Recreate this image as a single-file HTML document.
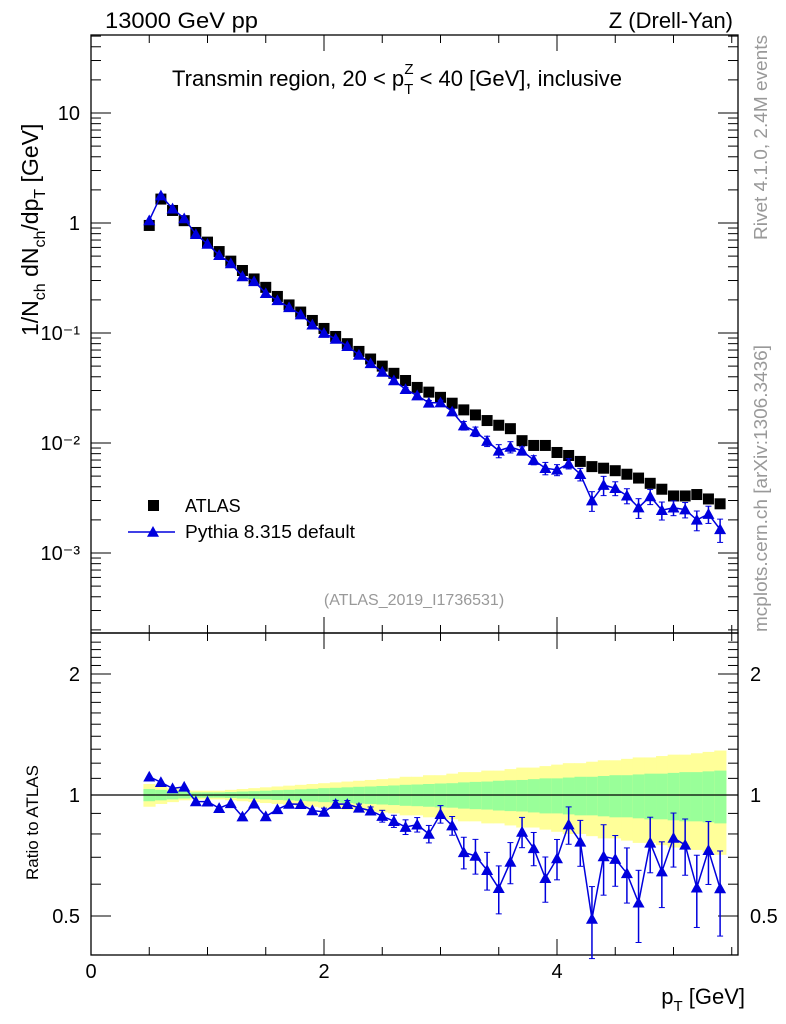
<!DOCTYPE html>
<html><head><meta charset="utf-8"><style>
body{margin:0;background:#fff;}
svg{display:block;font-family:"Liberation Sans",Arial,sans-serif;}
</style></head><body>
<svg id="chart" width="786" height="1024" viewBox="0 0 786 1024" xmlns="http://www.w3.org/2000/svg">
<text x="105" y="28" font-size="22" textLength="153" lengthAdjust="spacingAndGlyphs">13000 GeV pp</text>
<text x="733" y="28" font-size="22" text-anchor="end">Z (Drell-Yan)</text>
<text x="172" y="86" font-size="22">Transmin region, 20 &lt; p<tspan font-size="15" dy="8">T</tspan><tspan font-size="15" dx="-9" dy="-20">Z</tspan><tspan dy="12"> &lt; 40 [GeV], inclusive</tspan></text>
<text transform="translate(767,240) rotate(-90)" font-size="18" fill="#999" textLength="205" lengthAdjust="spacingAndGlyphs">Rivet 4.1.0,  2.4M events</text>
<text transform="translate(767,632) rotate(-90)" font-size="18" fill="#999" textLength="287" lengthAdjust="spacingAndGlyphs">mcplots.cern.ch [arXiv:1306.3436]</text>
<text x="414" y="605" font-size="16" fill="#999" text-anchor="middle">(ATLAS_2019_I1736531)</text>
<text transform="translate(38,336) rotate(-90)" font-size="23">1/N<tspan font-size="16" dy="7">ch</tspan><tspan dy="-7"> dN</tspan><tspan font-size="16" dy="7">ch</tspan><tspan dy="-7">/dp</tspan><tspan font-size="16" dy="7">T</tspan><tspan dy="-7"> [GeV]</tspan></text>
<text transform="translate(38,880) rotate(-90)" font-size="17">Ratio to ATLAS</text>
<text x="745" y="1004" font-size="22" text-anchor="end">p<tspan font-size="15" dy="7">T</tspan><tspan dy="-7"> [GeV]</tspan></text>
<g id="g"></g>
</svg>
<script>
const pt=[0.5,0.6,0.7,0.8,0.9,1.0,1.1,1.2,1.3,1.4,1.5,1.6,1.7,1.8,1.9,2.0,2.1,2.2,2.3,2.4,2.5,2.6,2.7,2.8,2.9,3.0,3.1,3.2,3.3,3.4,3.5,3.6,3.7,3.8,3.9,4.0,4.1,4.2,4.3,4.4,4.5,4.6,4.7,4.8,4.9,5.0,5.1,5.2,5.3,5.4];
const atlas=[0.95,1.65,1.3,1.05,0.82,0.67,0.55,0.45,0.37,0.31,0.26,0.215,0.18,0.155,0.13,0.11,0.093,0.08,0.068,0.058,0.05,0.043,0.037,0.032,0.029,0.026,0.023,0.02,0.018,0.016,0.0145,0.0135,0.0105,0.0095,0.0095,0.0082,0.0077,0.0068,0.0061,0.0059,0.0056,0.0052,0.0048,0.0043,0.0038,0.0033,0.0033,0.0034,0.0031,0.0028];
const mc=[1.055,1.775,1.35,1.10,0.79,0.645,0.51,0.429,0.327,0.295,0.230,0.198,0.171,0.147,0.119,0.0998,0.0883,0.0759,0.0632,0.053,0.0443,0.037,0.0308,0.027,0.0232,0.0233,0.0193,0.0144,0.0127,0.0104,0.0085,0.0092,0.0085,0.0070,0.0059,0.0057,0.0065,0.0052,0.0030,0.00415,0.00388,0.00332,0.00259,0.00327,0.00245,0.00258,0.00248,0.0020,0.00226,0.00164];
const mcErr=[0.01,0.01,0.01,0.01,0.01,0.01,0.01,0.01,0.01,0.01,0.01,0.01,0.01,0.01,0.01,0.02,0.02,0.02,0.02,0.02,0.03,0.03,0.035,0.035,0.04,0.045,0.045,0.065,0.07,0.07,0.08,0.08,0.07,0.07,0.08,0.08,0.09,0.1,0.1,0.14,0.1,0.1,0.11,0.12,0.12,0.12,0.12,0.12,0.13,0.14];
const bandY=[0.065,0.05,0.04,0.03,0.025,0.025,0.025,0.03,0.035,0.04,0.045,0.05,0.055,0.06,0.065,0.07,0.075,0.08,0.085,0.09,0.095,0.10,0.11,0.11,0.12,0.12,0.13,0.14,0.14,0.15,0.15,0.16,0.17,0.17,0.18,0.19,0.20,0.20,0.21,0.22,0.22,0.23,0.24,0.24,0.25,0.26,0.26,0.27,0.28,0.29];
const bandG=[0.035,0.03,0.025,0.02,0.015,0.015,0.015,0.017,0.02,0.022,0.025,0.028,0.03,0.033,0.036,0.04,0.042,0.045,0.048,0.05,0.053,0.056,0.06,0.062,0.065,0.068,0.07,0.075,0.078,0.08,0.085,0.088,0.09,0.095,0.1,0.1,0.105,0.11,0.11,0.115,0.12,0.12,0.125,0.13,0.13,0.135,0.14,0.14,0.145,0.15];
const xTickLabels=["0","2","4"];
const yTickLabels=["10\u207B\u00B3","10\u207B\u00B2","10\u207B\u00B9","1","10"];
const rTickLabels=["0.5","1","2"];

const NS="http://www.w3.org/2000/svg", G=document.getElementById('g');
const L=91,R=738,T=35,M=633,B=955;
const X=v=>L+v*116.5;
const Y=v=>223-110*Math.log10(v);
const RY=v=>795-402*Math.log10(v);
function mk(t,a,p){const e=document.createElementNS(NS,t);for(const k in a)e.setAttribute(k,a[k]);(p||G).appendChild(e);return e;}

for(let i=0;i<pt.length;i++){
  const x0=X(pt[i]-0.05),w=116.5*0.1+0.5;
  const by=mk('rect',{x:x0,y:RY(1+bandY[i]),width:w,height:RY(1-bandY[i])-RY(1+bandY[i]),fill:'#ffff99'});
  
  
  const bg=mk('rect',{x:x0,y:RY(1+bandG[i]),width:w,height:RY(1-bandG[i])-RY(1+bandG[i]),fill:'#99ff99'});
  
  
}
mk('line',{x1:L,x2:R,y1:RY(1),y2:RY(1),stroke:'#000','stroke-width':1.3});

const f1=mk('rect',{x:L,y:T,width:R-L,height:M-T,fill:'none',stroke:'#000','stroke-width':1.3});


const f2=mk('rect',{x:L,y:M,width:R-L,height:B-M,fill:'none',stroke:'#000','stroke-width':1.3});



for(let v=0;v<=5.5;v+=0.5){
  const maj=Math.abs(v%2)<1e-6, len=maj?16:8, x=X(v);
  for(const [yb,dir] of [[T,1],[M,-1],[M,1],[B,-1]]) mk('line',{x1:x,x2:x,y1:yb,y2:yb+dir*len,stroke:'#000'});
}
xTickLabels.forEach((s,i)=>{const t=mk('text',{x:X(i*2),y:978,'font-size':20,'text-anchor':'middle'});t.textContent=s;

});
for(let d=-4;d<=1;d++){for(let m=1;m<10;m++){const v=m*Math.pow(10,d);const y=Y(v);if(y<T||y>M)continue;const len=m==1?20:10;
mk('line',{x1:L,x2:L+len,y1:y,y2:y,stroke:'#000'});mk('line',{x1:R,x2:R-len,y1:y,y2:y,stroke:'#000'});}}
yTickLabels.forEach((s,i)=>{const t=mk('text',{x:80,y:Y(Math.pow(10,i-3))+7,'font-size':20,'text-anchor':'end'});t.textContent=s;

});
for(let v=0.4;v<=2.5;v+=0.1){const y=RY(v);if(y<M||y>B)continue;const maj=[0.5,1,2].some(u=>Math.abs(u-v)<1e-6);const len=maj?20:10;
mk('line',{x1:L,x2:L+len,y1:y,y2:y,stroke:'#000'});mk('line',{x1:R,x2:R-len,y1:y,y2:y,stroke:'#000'});}
rTickLabels.forEach((s,i)=>{const v=[0.5,1,2][i];
const t=mk('text',{x:80,y:RY(v)+7,'font-size':20,'text-anchor':'end'});t.textContent=s;


const t2=mk('text',{x:750,y:RY(v)+7,'font-size':20});t2.textContent=s;

});

const tri=(x,y,s)=>`${x},${y-s} ${x-s},${y+s*0.8} ${x+s},${y+s*0.8}`;
for(let i=0;i<pt.length;i++){const s=mk('rect',{x:X(pt[i])-5.5,y:Y(atlas[i])-5.5,width:11,height:11,fill:'#000'});

}
mk('polyline',{points:pt.map((p,i)=>X(p)+','+Y(mc[i])).join(' '),fill:'none',stroke:'#0000dd','stroke-width':1.5});
for(let i=0;i<pt.length;i++){const x=X(pt[i]);
const r=mc[i]/atlas[i];const e=mcErr[i]/r;
if(e>0.02){const y1=Y(mc[i]*(1+e)),y2=Y(mc[i]*(1-e));mk('line',{x1:x,x2:x,y1:y1,y2:y2,stroke:'#0000dd','stroke-width':1.5});
mk('line',{x1:x-3,x2:x+3,y1:y1,y2:y1,stroke:'#0000dd'});mk('line',{x1:x-3,x2:x+3,y1:y2,y2:y2,stroke:'#0000dd'});}
const p=mk('polygon',{points:tri(x,Y(mc[i]),6),fill:'#0000dd'});

}
const rat=mc.map((v,i)=>v/atlas[i]);
mk('polyline',{points:pt.map((p,i)=>X(p)+','+RY(rat[i])).join(' '),fill:'none',stroke:'#0000dd','stroke-width':1.5});
for(let i=0;i<pt.length;i++){const x=X(pt[i]);
if(mcErr[i]>0.015){const y1=RY(rat[i]+mcErr[i]),y2=RY(rat[i]-mcErr[i]);mk('line',{x1:x,x2:x,y1:y1,y2:y2,stroke:'#0000dd','stroke-width':1.5});
mk('line',{x1:x-3,x2:x+3,y1:y1,y2:y1,stroke:'#0000dd'});mk('line',{x1:x-3,x2:x+3,y1:y2,y2:y2,stroke:'#0000dd'});}
const p=mk('polygon',{points:tri(x,RY(rat[i]),6),fill:'#0000dd'});

}

const lg=mk('g',{});


mk('rect',{x:148,y:500,width:11,height:11,fill:'#000'},lg);
const lt1=mk('text',{x:185,y:512,'font-size':18},lg);lt1.textContent='ATLAS';


mk('line',{x1:128,x2:175,y1:532,y2:532,stroke:'#0000dd','stroke-width':1.5},lg);
mk('polygon',{points:tri(153,532,6),fill:'#0000dd'},lg);
const lt2=mk('text',{x:185,y:538,'font-size':18,textLength:170,lengthAdjust:'spacingAndGlyphs'},lg);lt2.textContent='Pythia 8.315 default';


</script>
</body></html>
